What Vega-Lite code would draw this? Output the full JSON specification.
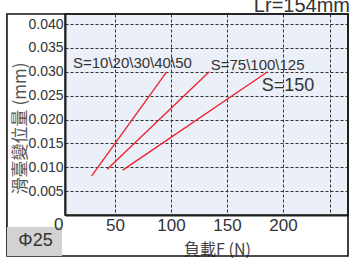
{
  "$schema": "https://vega.github.io/schema/vega-lite/v6.json",
  "width": 283,
  "height": 201,
  "autosize": "none",
  "padding": {"left": 65, "top": 14, "right": 6, "bottom": 50},
  "background": "white",
  "config": {
    "font": "Liberation Sans",
    "view": {"fill": "#ebeff7", "stroke": "#333333", "strokeWidth": 1.5}
  },
  "datasets": {
    "lines": [
      {"series": "S=10\\20\\30\\40\\50", "F": 29.3, "disp": 0.0082},
      {"series": "S=10\\20\\30\\40\\50", "F": 96.2, "disp": 0.030},
      {"series": "S=75\\100\\125", "F": 43.2, "disp": 0.0096},
      {"series": "S=75\\100\\125", "F": 134.2, "disp": 0.030},
      {"series": "S=150", "F": 57.0, "disp": 0.0094},
      {"series": "S=150", "F": 186.3, "disp": 0.030}
    ],
    "smallLabels": [
      {"label": "S=10\\20\\30\\40\\50", "F": 12.6, "disp": 0.0319},
      {"label": "S=75\\100\\125", "F": 135.5, "disp": 0.0314}
    ],
    "bigLabels": [
      {"label": "S=150", "F": 181, "disp": 0.0270}
    ],
    "zeroLabel": [
      {"label": "0", "F": 0, "disp": -0.00046}
    ],
    "header": [
      {"label": "Lr=154mm", "F": 259.8, "disp": 0.04252}
    ],
    "badge": [
      {"label": "Φ25", "F0": -46.3, "F1": 2.8, "d0": -0.00251, "d1": -0.00859, "Fc": -20.8, "dc": -0.00545}
    ],
    "frame": [
      {"F0": -46.3, "F1": 258, "d0": 0.0421, "d1": -0.00859}
    ]
  },
  "layer": [
    {
      "data": {"name": "lines"},
      "mark": {"type": "line", "color": "#f01e28", "strokeWidth": 1.3, "clip": true},
      "encoding": {
        "x": {
          "field": "F", "type": "quantitative",
          "scale": {"domain": [5.5, 258], "nice": false, "zero": false},
          "axis": {
            "values": [50, 100, 150, 200, 242],
            "tickCount": 20,
            "labelExpr": "datum.value > 240 ? '' : datum.label",
            "labelFontSize": 17,
            "labelColor": "#333333",
            "labelPadding": 2,
            "labelFlush": false,
            "labelOverlap": false,
            "ticks": false,
            "domainColor": "#222222",
            "domainWidth": 2,
            "grid": true,
            "gridColor": "#333333",
            "gridDash": [3, 2],
            "gridWidth": 1,
            "title": "負載F (N)",
            "titleFont": "Noto Sans CJK TC",
            "titleFontSize": 16,
            "titleFontWeight": "normal",
            "titleColor": "#444444",
            "titleX": 152,
            "titleY": 34,
            "titleBaseline": "middle",
            "titleAlign": "center"
          }
        },
        "y": {
          "field": "disp", "type": "quantitative",
          "scale": {"domain": [0, 0.0421], "nice": false, "zero": false},
          "axis": {
            "values": [0.005, 0.01, 0.015, 0.02, 0.025, 0.03, 0.035, 0.04],
            "tickCount": 20,
            "format": ".3f",
            "labelFontSize": 14,
            "labelColor": "#333333",
            "labelPadding": 2,
            "labelOverlap": false,
            "labelFlush": false,
            "ticks": false,
            "domainColor": "#222222",
            "domainWidth": 2,
            "grid": true,
            "gridColor": "#333333",
            "gridDash": [3, 2],
            "gridWidth": 1,
            "title": "滑臺變位量 (mm)",
            "titleFont": "Noto Sans CJK TC",
            "titleFontSize": 17,
            "titleFontWeight": "normal",
            "titleColor": "#555555",
            "titleX": -45,
            "titleY": 114,
            "titleBaseline": "middle",
            "titleAlign": "center"
          }
        },
        "detail": {"field": "series"}
      }
    },
    {
      "data": {"name": "frame"},
      "mark": {"type": "rect", "fill": "transparent", "stroke": "#111111", "strokeWidth": 1.6, "clip": false},
      "encoding": {
        "x": {"field": "F0", "type": "quantitative"},
        "x2": {"field": "F1"},
        "y": {"field": "d0", "type": "quantitative"},
        "y2": {"field": "d1"}
      }
    },
    {
      "data": {"name": "badge"},
      "mark": {"type": "rect", "fill": "#d2d2d2", "clip": false},
      "encoding": {
        "x": {"field": "F0", "type": "quantitative"},
        "x2": {"field": "F1"},
        "y": {"field": "d0", "type": "quantitative"},
        "y2": {"field": "d1"}
      }
    },
    {
      "data": {"name": "badge"},
      "mark": {"type": "text", "fontSize": 18, "color": "#333333", "align": "center", "baseline": "middle", "clip": false},
      "encoding": {
        "x": {"field": "Fc", "type": "quantitative"},
        "y": {"field": "dc", "type": "quantitative"},
        "text": {"field": "label"}
      }
    },
    {
      "data": {"name": "smallLabels"},
      "mark": {"type": "text", "fontSize": 15, "color": "#333333", "align": "left", "baseline": "middle"},
      "encoding": {
        "x": {"field": "F", "type": "quantitative"},
        "y": {"field": "disp", "type": "quantitative"},
        "text": {"field": "label"}
      }
    },
    {
      "data": {"name": "bigLabels"},
      "mark": {"type": "text", "fontSize": 18, "color": "#333333", "align": "left", "baseline": "middle"},
      "encoding": {
        "x": {"field": "F", "type": "quantitative"},
        "y": {"field": "disp", "type": "quantitative"},
        "text": {"field": "label"}
      }
    },
    {
      "data": {"name": "zeroLabel"},
      "mark": {"type": "text", "fontSize": 17, "color": "#333333", "align": "center", "baseline": "top", "clip": false},
      "encoding": {
        "x": {"field": "F", "type": "quantitative"},
        "y": {"field": "disp", "type": "quantitative"},
        "text": {"field": "label"}
      }
    },
    {
      "data": {"name": "header"},
      "mark": {"type": "text", "fontSize": 20, "color": "#333333", "align": "right", "baseline": "alphabetic", "clip": false},
      "encoding": {
        "x": {"field": "F", "type": "quantitative"},
        "y": {"field": "disp", "type": "quantitative"},
        "text": {"field": "label"}
      }
    }
  ]
}
